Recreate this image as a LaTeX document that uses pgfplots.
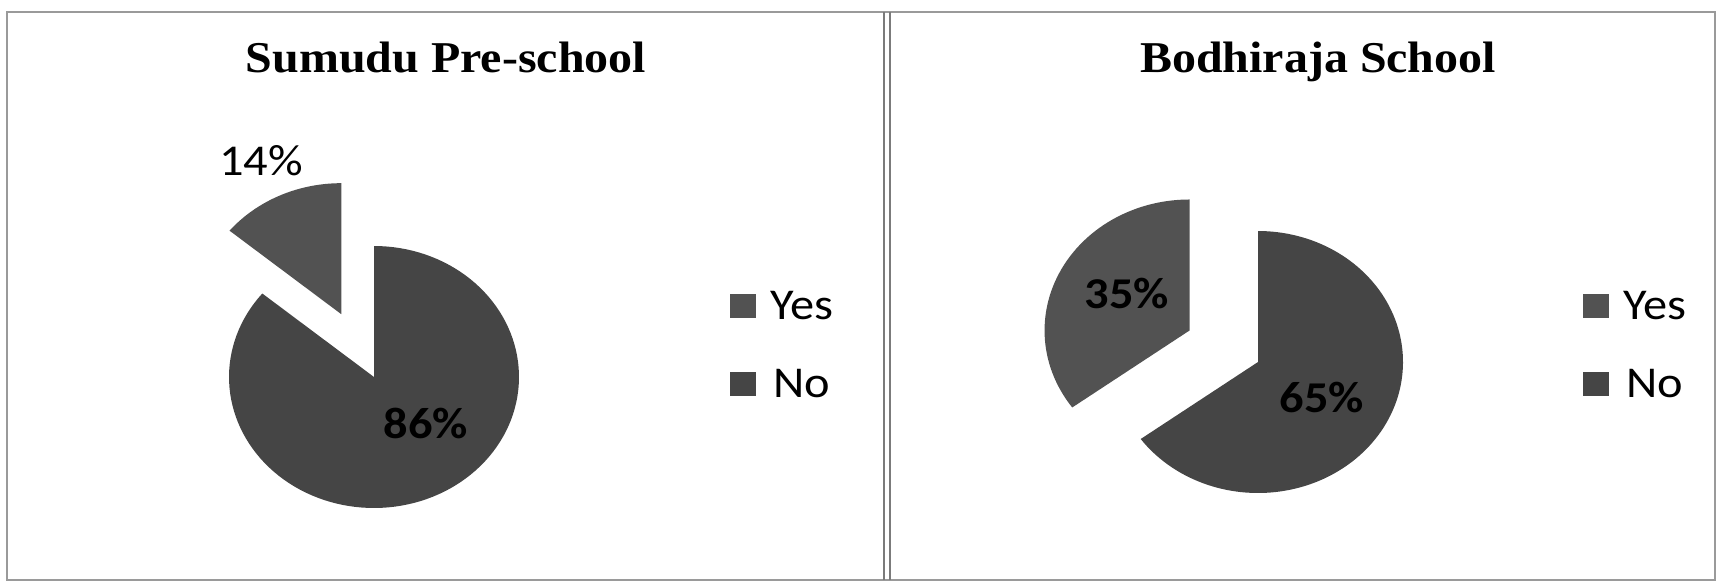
\documentclass[border=0pt]{standalone}
\usepackage{fontspec}
\setmainfont{Carlito}[FakeStretch=1.1]
\newfontfamily\titlefont{Liberation Serif}[FakeStretch=1.09]
\usepackage{pgfplots}
\usepackage{pgfplotstable}
\pgfplotsset{compat=1.18}

\definecolor{yescol}{HTML}{525252}
\definecolor{nocol}{HTML}{454545}
\definecolor{framecol}{HTML}{9A9A9A}

% share of pupils, per school
\pgfplotstableread{
label value
Yes   14
No    86
}\sumudu
\pgfplotstableread{
label value
Yes   35
No    65
}\bodhiraja

\newcommand{\labfont}{\fontsize{22}{26}\selectfont}

\pgfplotsset{
  piebase/.style={
    hide axis, clip=false,
    x=0.5pt, y=0.5pt,
    ymin=0, ymax=585,
    anchor=south west,
    title style={anchor=base, font=\titlefont\bfseries\fontsize{22}{26}\selectfont},
    legend style={draw=none, fill=none, anchor=north west, inner sep=0pt,
      font=\labfont, row sep=26pt, column sep=7pt,
      nodes={inner sep=0pt, text height=13pt, text depth=0pt}},
    legend image code/.code={\fill[##1] (0pt,-6pt) rectangle (13pt,6pt);},
  },
}

% \pieslices{table}{cx}{cy}: Yes slice exploded, starting at 12 o'clock
\newcommand{\pieslices}[3]{%
  \pgfplotstablegetelem{0}{value}\of#1\pgfmathsetmacro\yesv{\pgfplotsretval}%
  \pgfmathsetmacro\yesB{90+3.6*\yesv}%
  \pgfmathsetmacro\bis{90+1.8*\yesv}%
  \pgfmathsetmacro\ex{#2+0.53*145*cos(\bis)}%
  \pgfmathsetmacro\ey{#3+0.53*131*sin(\bis)}%
  \addplot[fill=yescol, draw=none, domain=90:\yesB, samples=60, variable=\t]
    ({\ex+145*cos(\t)}, {\ey+131*sin(\t)}) -- (\ex,\ey) -- cycle;
  \addplot[fill=nocol, draw=none, domain=\yesB:450, samples=120, variable=\t]
    ({#2+145*cos(\t)}, {#3+131*sin(\t)}) -- (#2,#3) -- cycle;
}

\begin{document}
\begin{tikzpicture}
\useasboundingbox (0,0) rectangle (861pt,292.5pt);

\begin{axis}[piebase, at={(0pt,0pt)}, xmin=0, xmax=887,
  title={Sumudu Pre-school}, title style={at={(0.5028,0.8547)}},
  legend style={at={(axis cs:730,292)}}]
  \pieslices{\sumudu}{374}{208}
  \legend{Yes,No}
  \node[font=\labfont, anchor=base] at (261,410) {14\%};
  \node[font=\labfont\bfseries, anchor=base, text=black] at (426,147) {86\%};
\end{axis}

\begin{axis}[piebase, at={(443.5pt,0pt)}, xmin=887, xmax=1722,
  title={Bodhiraja School}, title style={at={(0.5162,0.8547)}},
  legend style={at={(axis cs:1583,292)}}]
  \pieslices{\bodhiraja}{1258}{223}
  \legend{Yes,No}
  \node[font=\labfont\bfseries, anchor=base] at (1127,277) {35\%};
  \node[font=\labfont\bfseries, anchor=base] at (1322,173) {65\%};
\end{axis}

% panel frames
\draw[framecol, line width=0.6pt] (3.5pt,2.5pt) rectangle (857.5pt,286.5pt);
\draw[framecol!80!black, line width=0.7pt] (442pt,2.5pt) -- (442pt,286.5pt)
  (445pt,2.5pt) -- (445pt,286.5pt);
\end{tikzpicture}
\end{document}
